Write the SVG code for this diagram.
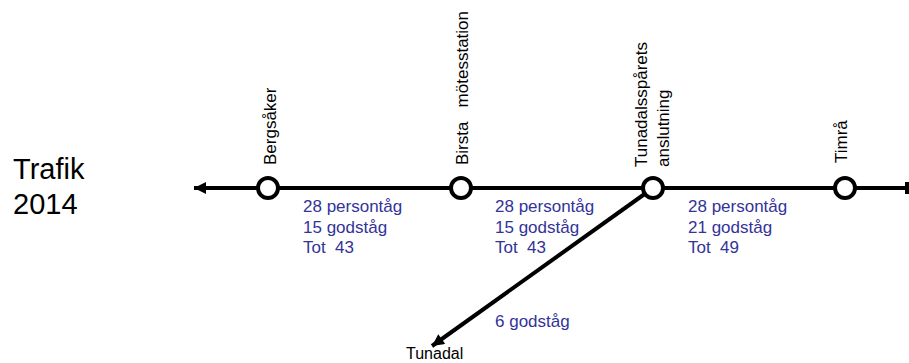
<svg xmlns="http://www.w3.org/2000/svg" width="909" height="363" viewBox="0 0 909 363">
<style>
.lbl{font-family:"Liberation Sans",Arial,sans-serif;font-size:17px;fill:#000}
.blue{font-family:"Liberation Sans",Arial,sans-serif;font-size:17px;fill:#333399}
.title{font-family:"Liberation Sans",Arial,sans-serif;font-size:29px;fill:#000}
.track{stroke:#000;stroke-width:4;fill:none}
.node{fill:#fff;stroke:#000;stroke-width:4}
</style>
<defs>
<marker id="arr" viewBox="0 0 10 10" refX="10" refY="5" markerWidth="14" markerHeight="12" markerUnits="userSpaceOnUse" orient="auto">
<path d="M0,0 L10,5 L0,10 z" fill="#000"/>
</marker>
</defs>
<g id="title">
<text class="title" x="13" y="179">Trafik</text>
<text class="title" x="13" y="214">2014</text>
</g>
<g id="connectors">
<line class="track" x1="907" y1="188" x2="194" y2="188" marker-end="url(#arr)"/>
<line class="track" x1="907" y1="182" x2="907" y2="194" stroke-width="3"/>
<line class="track" x1="653" y1="188" x2="432" y2="346" marker-end="url(#arr)"/>
</g>
<g id="bergsaker">
<circle class="node" cx="268" cy="188" r="10"/>
<text class="lbl" transform="translate(276,165) rotate(-90)">Bergsåker</text>
</g>
<g id="birsta">
<circle class="node" cx="461" cy="188" r="10"/>
<text class="lbl" transform="translate(468,165) rotate(-90)" xml:space="preserve">Birsta   mötesstation</text>
</g>
<g id="tunadalsparets">
<circle class="node" cx="653" cy="188" r="10"/>
<text class="lbl" transform="translate(647,167) rotate(-90)">Tunadalsspårets</text>
<text class="lbl" transform="translate(669,167) rotate(-90)">anslutning</text>
</g>
<g id="timra">
<circle class="node" cx="845" cy="188" r="10"/>
<text class="lbl" transform="translate(847,163) rotate(-90)">Timrå</text>
</g>
<g id="tunadal">
<text class="lbl" x="406" y="359" style="font-size:16px">Tunadal</text>
</g>
<g id="traffic-labels">
<text class="blue" x="303" y="212">28 persontåg</text>
<text class="blue" x="303" y="233">15 godståg</text>
<text class="blue" x="303" y="253" xml:space="preserve">Tot  43</text>
<text class="blue" x="495" y="212">28 persontåg</text>
<text class="blue" x="495" y="233">15 godståg</text>
<text class="blue" x="495" y="253" xml:space="preserve">Tot  43</text>
<text class="blue" x="688" y="212">28 persontåg</text>
<text class="blue" x="688" y="233">21 godståg</text>
<text class="blue" x="688" y="253" xml:space="preserve">Tot  49</text>
<text class="blue" x="495" y="327">6 godståg</text>
</g>
</svg>
